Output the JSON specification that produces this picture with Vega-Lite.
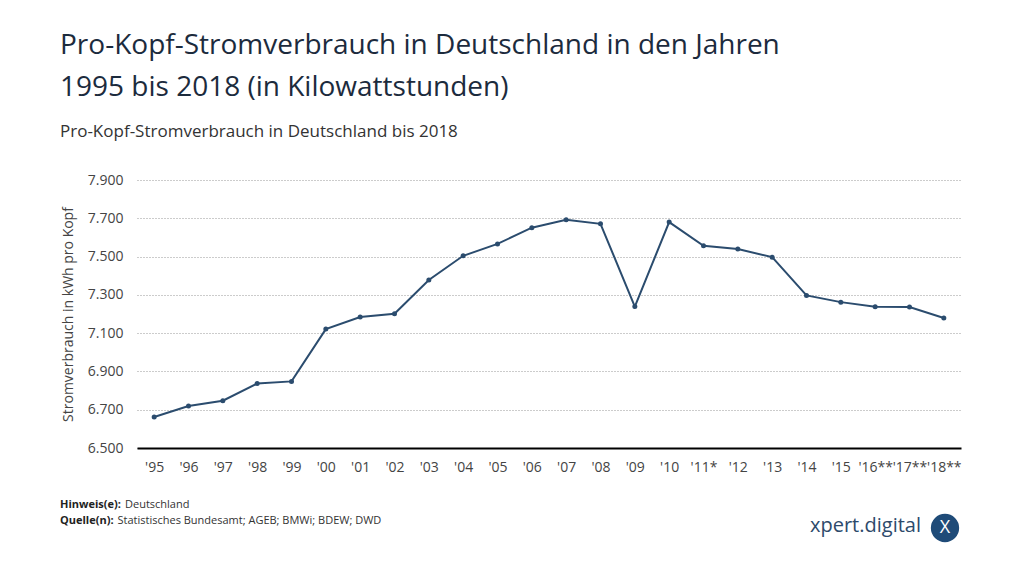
{
  "$schema": "https://vega.github.io/schema/vega-lite/v6.json",
  "width": 824,
  "height": 268,
  "autosize": {"type": "none"},
  "padding": {"left": 137, "top": 180, "right": 63, "bottom": 129},
  "background": "white",
  "config": {
    "locale": {"number": {"decimal": ",", "thousands": ".", "grouping": [3], "currency": ["", " €"]}},
    "font": "Open Sans",
    "view": {"stroke": null}
  },
  "title": {
    "text": ["Pro-Kopf-Stromverbrauch in Deutschland in den Jahren", "1995 bis 2018 (in Kilowattstunden)"],
    "subtitle": "Pro-Kopf-Stromverbrauch in Deutschland bis 2018",
    "anchor": "start",
    "frame": "bounds",
    "font": "Open Sans",
    "fontSize": 28,
    "fontWeight": "normal",
    "color": "#1c2b3d",
    "lineHeight": 42,
    "subtitleFont": "Open Sans",
    "subtitleFontSize": 17,
    "subtitleColor": "#333333",
    "subtitlePadding": 22,
    "offset": 33
  },
  "layer": [
    {
      "data": {"values": [
        {"jahr": "'95", "kwh": 6662},
        {"jahr": "'96", "kwh": 6719},
        {"jahr": "'97", "kwh": 6747},
        {"jahr": "'98", "kwh": 6837},
        {"jahr": "'99", "kwh": 6848},
        {"jahr": "'00", "kwh": 7121},
        {"jahr": "'01", "kwh": 7184},
        {"jahr": "'02", "kwh": 7201},
        {"jahr": "'03", "kwh": 7378},
        {"jahr": "'04", "kwh": 7504},
        {"jahr": "'05", "kwh": 7566},
        {"jahr": "'06", "kwh": 7651},
        {"jahr": "'07", "kwh": 7692},
        {"jahr": "'08", "kwh": 7671},
        {"jahr": "'09", "kwh": 7239},
        {"jahr": "'10", "kwh": 7680},
        {"jahr": "'11*", "kwh": 7556},
        {"jahr": "'12", "kwh": 7539},
        {"jahr": "'13", "kwh": 7497},
        {"jahr": "'14", "kwh": 7297},
        {"jahr": "'15", "kwh": 7262},
        {"jahr": "'16**", "kwh": 7238},
        {"jahr": "'17**", "kwh": 7236},
        {"jahr": "'18**", "kwh": 7179}
      ]},
      "mark": {"type": "line", "color": "#2b4c6e", "strokeWidth": 2, "point": {"filled": true, "size": 25, "color": "#2b4c6e"}},
      "encoding": {
        "x": {
          "field": "jahr", "type": "ordinal", "sort": null,
          "scale": {"type": "point", "padding": 0.5},
          "axis": {"title": null, "labelAngle": 0, "domain": true, "domainColor": "#000000", "domainWidth": 2, "ticks": false, "labelPadding": 12, "labelFontSize": 14, "labelColor": "#444444", "labelFont": "Open Sans", "labelOverlap": false, "grid": false}
        },
        "y": {
          "field": "kwh", "type": "quantitative",
          "scale": {"domain": [6500, 7900], "nice": false, "zero": false},
          "axis": {"values": [6500, 6700, 6900, 7100, 7300, 7500, 7700, 7900], "format": ",d", "domain": false, "ticks": false, "labelPadding": 14, "labelFontSize": 14, "labelColor": "#444444", "labelFont": "Open Sans", "gridDash": [1, 2], "gridColor": "#999999", "title": "Stromverbrauch in kWh pro Kopf", "titleFont": "Open Sans", "titleFontSize": 14, "titleFontWeight": "normal", "titleColor": "#444444", "titlePadding": 12}
        }
      }
    },
    {
      "data": {"values": [{"t": "Hinweis(e):"}]},
      "mark": {"type": "text", "align": "left", "baseline": "alphabetic", "fontSize": 11, "fontWeight": "bold", "color": "#222222", "font": "Open Sans"},
      "encoding": {"text": {"field": "t"}, "x": {"value": -77}, "y": {"value": 328}}
    },
    {
      "data": {"values": [{"t": "Deutschland"}]},
      "mark": {"type": "text", "align": "left", "baseline": "alphabetic", "fontSize": 11, "color": "#333333", "font": "Open Sans"},
      "encoding": {"text": {"field": "t"}, "x": {"value": -12}, "y": {"value": 328}}
    },
    {
      "data": {"values": [{"t": "Quelle(n):"}]},
      "mark": {"type": "text", "align": "left", "baseline": "alphabetic", "fontSize": 11, "fontWeight": "bold", "color": "#222222", "font": "Open Sans"},
      "encoding": {"text": {"field": "t"}, "x": {"value": -77}, "y": {"value": 344}}
    },
    {
      "data": {"values": [{"t": "Statistisches Bundesamt; AGEB; BMWi; BDEW; DWD"}]},
      "mark": {"type": "text", "align": "left", "baseline": "alphabetic", "fontSize": 11, "color": "#333333", "font": "Open Sans"},
      "encoding": {"text": {"field": "t"}, "x": {"value": -19.5}, "y": {"value": 344}}
    },
    {
      "data": {"values": [{"t": "xpert.digital"}]},
      "mark": {"type": "text", "align": "left", "baseline": "middle", "fontSize": 20, "color": "#2d4a6b", "font": "Open Sans"},
      "encoding": {"text": {"field": "t"}, "x": {"value": 673}, "y": {"value": 346}}
    },
    {
      "data": {"values": [{"t": "logo"}]},
      "mark": {"type": "point", "filled": true, "size": 800, "color": "#1f4b78", "opacity": 1},
      "encoding": {"x": {"value": 808}, "y": {"value": 348}}
    },
    {
      "data": {"values": [{"t": "X"}]},
      "mark": {"type": "text", "align": "center", "baseline": "middle", "fontSize": 18, "color": "#ffffff", "font": "Open Sans"},
      "encoding": {"text": {"field": "t"}, "x": {"value": 808}, "y": {"value": 348}}
    }
  ]
}
